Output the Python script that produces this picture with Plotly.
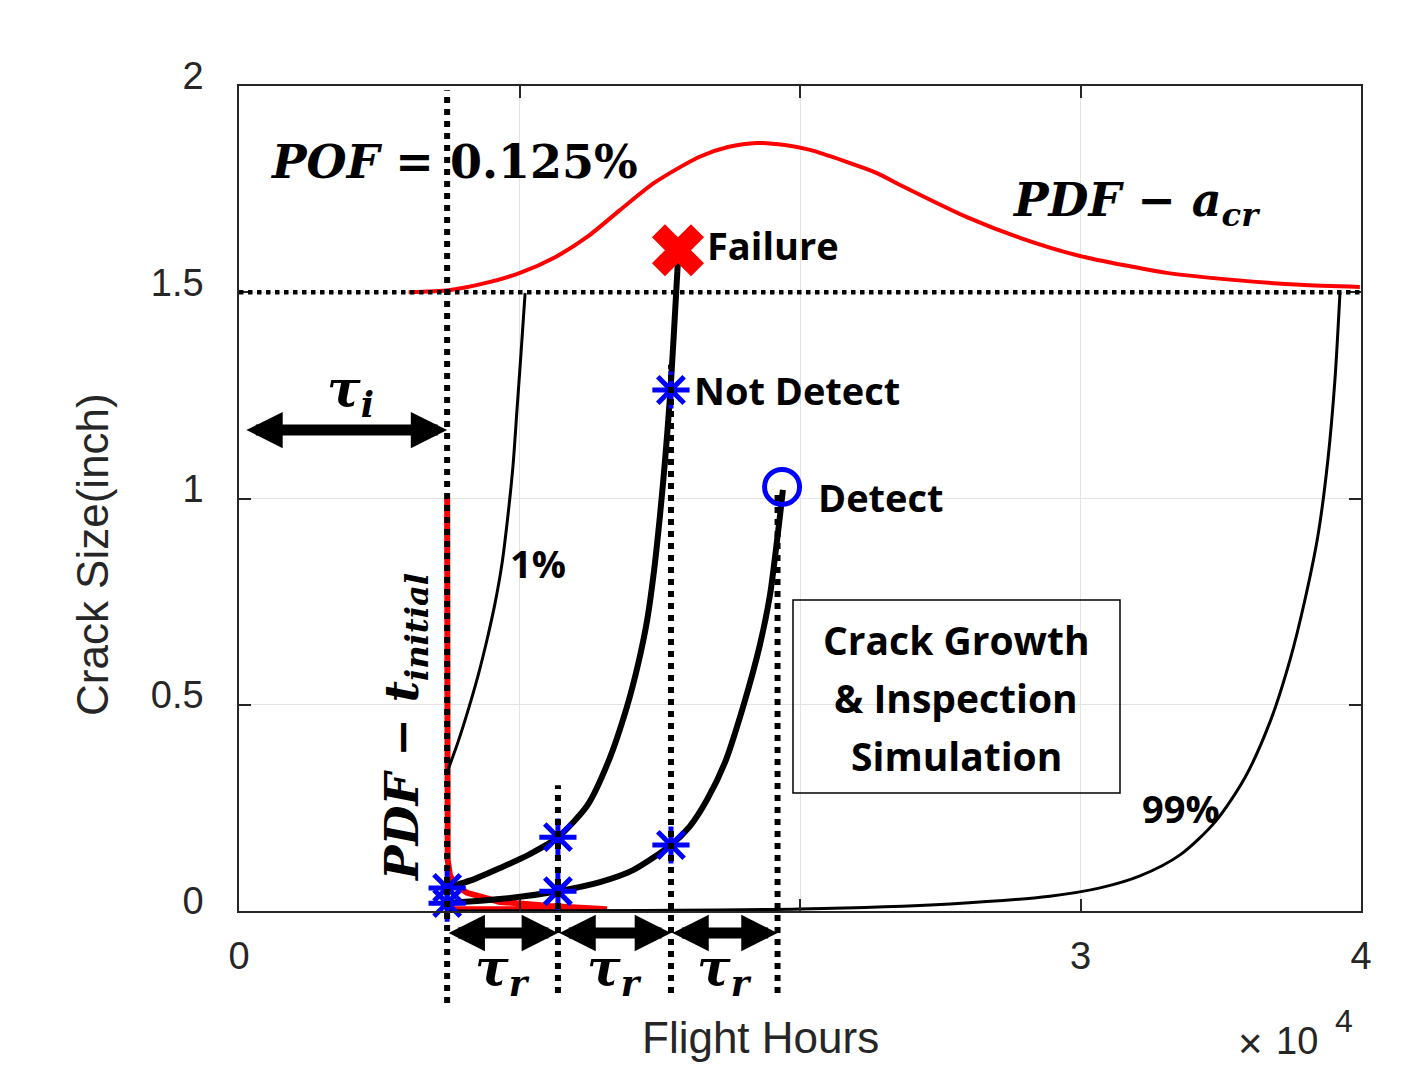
import plotly.graph_objects as go

# ---------------- data (x in units of 1e4 flight hours, y = crack size in inch) ----------------
acr_pdf_x = [0.605, 0.748, 0.877, 1.002, 1.127, 1.241, 1.358, 1.480, 1.640, 1.743, 1.847,
             1.946, 2.036, 2.274, 2.357, 2.595, 2.784, 2.998, 3.308, 3.544, 3.783, 3.996]
acr_pdf_y = [1.500, 1.505, 1.522, 1.547, 1.585, 1.634, 1.699, 1.765, 1.828, 1.852, 1.862,
             1.857, 1.845, 1.789, 1.760, 1.682, 1.632, 1.588, 1.547, 1.530, 1.518, 1.513]

tinit_pdf_x = [0.742, 0.742, 0.744, 0.752, 0.770, 0.813, 0.930, 1.109, 1.312, 1.312, 0.760]
tinit_pdf_y = [1.000, 0.300, 0.124, 0.087, 0.063, 0.044, 0.022, 0.012, 0.007, 0.004, 0.004]

p01_x = [0.745, 0.781, 0.816, 0.852, 0.884, 0.913, 0.938, 0.959, 0.977, 0.991, 1.005, 1.020]
p01_y = [0.342, 0.410, 0.485, 0.570, 0.657, 0.747, 0.844, 0.960, 1.081, 1.215, 1.348, 1.498]

p99_x = [0.742, 2.000, 2.535, 2.891, 3.070, 3.212, 3.355, 3.480, 3.586, 3.676, 3.747,
         3.800, 3.847, 3.882, 3.907, 3.925]
p99_y = [0.000, 0.005, 0.017, 0.036, 0.056, 0.085, 0.136, 0.216, 0.323, 0.459, 0.609,
         0.754, 0.912, 1.094, 1.287, 1.498]

fail_x = [0.742, 0.841, 0.930, 1.037, 1.137, 1.241, 1.316, 1.383, 1.422, 1.455, 1.480,
          1.501, 1.519, 1.537, 1.551, 1.565]
fail_y = [0.056, 0.078, 0.104, 0.138, 0.179, 0.255, 0.361, 0.495, 0.596, 0.705, 0.827,
          0.960, 1.093, 1.251, 1.408, 1.578]

det_x = [0.742, 0.930, 1.137, 1.287, 1.405, 1.540, 1.608, 1.668, 1.733, 1.797, 1.857,
         1.893, 1.914, 1.929, 1.939]
det_y = [0.019, 0.029, 0.048, 0.070, 0.099, 0.160, 0.206, 0.269, 0.361, 0.495, 0.645,
         0.766, 0.875, 0.960, 1.021]

insp_x = [0.742, 1.137, 1.540, 1.920]          # inspection times
insp_top = [1.99, 0.305, 1.324, 1.020]          # top of dotted guide lines
insp_bottom = [-0.223, -0.199, -0.199, -0.199]  # bottom of dotted guide lines
a_crit = 1.5

star_x = [0.742, 0.742, 1.137, 1.137, 1.540, 1.540]
star_y = [0.056, 0.019, 0.179, 0.048, 0.160, 1.263]
failure_pt = ([1.565], [1.602])
detect_pt = ([1.936], [1.028])
tau_i_level = 1.166
tau_i_start = 0.021

x_tickvals = [0, 1, 2, 3, 4]
x_ticktext = ["0", "", "", "3", "4"]
y_tickvals = [0, 0.5, 1, 1.5, 2]
y_ticktext = ["0", "0.5", "1", "1.5", "2"]

X_RANGE = [0, 4]
Y_RANGE = [0, 2]

# ---------------- layout helpers ----------------
L, R, T, B = 239, 1361, 86, 911
W, H = 1412, 1068


def px(xp):
    return (xp - L) / (R - L)


def py(yp):
    return (B - yp) / (B - T)


def ypaper(v):
    return (v - Y_RANGE[0]) / (Y_RANGE[1] - Y_RANGE[0])


AX = "#262626"
MATH = "DejaVu Serif"
CAL = "Open Sans"
BLUE = "#0000ff"
RED = "#ff0000"

fig = go.Figure()

fig.add_trace(go.Scatter(x=acr_pdf_x, y=acr_pdf_y, mode="lines",
                         line=dict(color=RED, width=4, shape="spline", smoothing=0.7),
                         hoverinfo="skip"))
fig.add_trace(go.Scatter(x=tinit_pdf_x, y=tinit_pdf_y, mode="lines",
                         line=dict(color=RED, width=6),
                         hoverinfo="skip"))
fig.add_trace(go.Scatter(x=p01_x, y=p01_y, mode="lines",
                         line=dict(color="black", width=3, shape="spline", smoothing=0.8),
                         hoverinfo="skip"))
fig.add_trace(go.Scatter(x=p99_x, y=p99_y, mode="lines",
                         line=dict(color="black", width=3, shape="spline", smoothing=0.8),
                         hoverinfo="skip"))
fig.add_trace(go.Scatter(x=fail_x, y=fail_y, mode="lines",
                         line=dict(color="black", width=6, shape="spline", smoothing=0.7),
                         hoverinfo="skip"))
fig.add_trace(go.Scatter(x=det_x, y=det_y, mode="lines",
                         line=dict(color="black", width=6, shape="spline", smoothing=0.7),
                         hoverinfo="skip"))
fig.add_trace(go.Scatter(x=star_x, y=star_y, mode="markers", cliponaxis=False,
                         marker=dict(symbol="asterisk-open", size=31, color=BLUE,
                                     line=dict(color=BLUE, width=5)),
                         hoverinfo="skip"))
fig.add_trace(go.Scatter(x=failure_pt[0], y=failure_pt[1], mode="markers", cliponaxis=False,
                         marker=dict(symbol="x", size=46, color=RED,
                                     line=dict(width=0)),
                         hoverinfo="skip"))
fig.add_trace(go.Scatter(x=detect_pt[0], y=detect_pt[1], mode="markers", cliponaxis=False,
                         marker=dict(symbol="circle-open", size=35, color=BLUE,
                                     line=dict(color=BLUE, width=5)),
                         hoverinfo="skip"))

shapes = []
# critical crack size dotted line
shapes.append(dict(type="line", xref="paper", yref="y", x0=0, x1=1, y0=a_crit, y1=a_crit,
                   line=dict(color="black", width=4.5, dash="4.5px,4.5px")))
# inspection guide lines
for xv, t, b in zip(insp_x, insp_top, insp_bottom):
    shapes.append(dict(type="line", xref="x", yref="paper", x0=xv, x1=xv,
                       y0=ypaper(b), y1=ypaper(t),
                       line=dict(color="black", width=6, dash="6px,6px")))
# simulation box
shapes.append(dict(type="rect", xref="paper", yref="paper",
                   x0=px(793), x1=px(1120), y0=py(793), y1=py(600),
                   line=dict(color="black", width=1.5), fillcolor="rgba(0,0,0,0)"))

ann = []


def text(x, y, s, size, family, xanchor="center", angle=0, color="black"):
    ann.append(dict(x=px(x), y=py(y), xref="paper", yref="paper", text=s, showarrow=False,
                    xanchor=xanchor, yanchor="middle", textangle=angle,
                    font=dict(size=size, family=family, color=color)))


# math labels
text(268, 162, "<b><i>POF</i> = 0.125%</b>", 46, MATH, xanchor="left")
text(1010, 203, "<b><i>PDF</i> − <i>a</i><sub><i>cr</i></sub></b>", 46, MATH, xanchor="left")
text(350, 392, "<b><i>τ</i><sub><i>i</i></sub></b>", 50, MATH)
text(405, 728, "<b><i>PDF</i> − <i>t</i><sub><i>initial</i></sub></b>", 46, MATH, angle=-90)
for i in range(3):
    xm = (insp_x[i] + insp_x[i + 1]) / 2
    ann.append(dict(x=xm, y=py(971), xref="x", yref="paper",
                    text="<b><i>τ</i><sub><i>r</i></sub></b>", showarrow=False,
                    xanchor="center", yanchor="middle",
                    font=dict(size=50, family=MATH, color="black")))

# plain labels
text(705, 245, "<b>Failure</b>", 38, CAL, xanchor="left")
text(692, 390, "<b>Not Detect</b>", 38, CAL, xanchor="left")
text(816, 497, "<b>Detect</b>", 38, CAL, xanchor="left")
text(508, 563, "<b>1%</b>", 38, CAL, xanchor="left")
text(1140, 808, "<b>99%</b>", 38, CAL, xanchor="left")
text(956, 639, "<b>Crack Growth</b>", 39, CAL)
text(956, 697, "<b>&amp; Inspection</b>", 39, CAL)
text(956, 755, "<b>Simulation</b>", 39, CAL)

# axis titles / exponent
text(760, 1037, "Flight Hours", 44, "Liberation Sans", color=AX)
text(92, 555, "Crack Size(inch)", 44, "Liberation Sans", angle=-90, color=AX)
text(1250, 1043, "×", 42, "Liberation Sans", color=AX)
text(1297, 1041, "10", 38, "Liberation Sans", color=AX)
text(1344, 1021, "4", 32, "Liberation Sans", color=AX)

# arrows
arrow_style = dict(showarrow=True, text="", arrowhead=2, startarrowhead=2, arrowside="end+start",
                   arrowwidth=11, arrowsize=0.66, startarrowsize=0.66, arrowcolor="black",
                   standoff=0, startstandoff=0)
for i in range(3):
    ann.append(dict(x=insp_x[i + 1], y=py(933), xref="x", yref="paper",
                    ax=insp_x[i], ay=0, axref="x", ayref="pixel", **arrow_style))
ann.append(dict(x=insp_x[0], y=tau_i_level, xref="x", yref="y",
                ax=tau_i_start, ay=0, axref="x", ayref="pixel", **arrow_style))

fig.update_layout(
    width=W, height=H, autosize=False,
    margin=dict(l=L, r=W - R, t=T, b=H - B, pad=0),
    paper_bgcolor="white", plot_bgcolor="white",
    showlegend=False,
    shapes=shapes, annotations=ann,
    font=dict(family="Liberation Sans", color=AX),
)
fig.update_xaxes(range=X_RANGE, tickvals=x_tickvals, ticktext=x_ticktext,
                 showgrid=True, gridcolor="#e3e3e3", gridwidth=1,
                 showline=True, linecolor=AX, linewidth=1.5, mirror="ticks",
                 ticks="inside", ticklen=12, tickwidth=1.5, tickcolor=AX,
                 tickfont=dict(size=38, family="Liberation Sans", color=AX),
                 ticklabelstandoff=11, zeroline=False)
fig.update_yaxes(range=Y_RANGE, tickvals=y_tickvals, ticktext=y_ticktext,
                 showgrid=True, gridcolor="#e3e3e3", gridwidth=1,
                 showline=True, linecolor=AX, linewidth=1.5, mirror="ticks",
                 ticks="inside", ticklen=12, tickwidth=1.5, tickcolor=AX,
                 tickfont=dict(size=38, family="Liberation Sans", color=AX),
                 ticklabelstandoff=26, ticklabelshift=-10, zeroline=False)

fig.write_html("out.html")
